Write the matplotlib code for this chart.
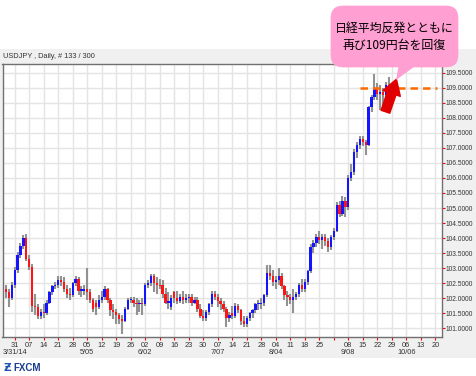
import numpy as np
import matplotlib
matplotlib.use('Agg')
import matplotlib.pyplot as plt
from matplotlib.patches import Rectangle, FancyBboxPatch, Polygon
from matplotlib.transforms import blended_transform_factory

plt.rcParams['font.family'] = ['Liberation Sans', 'DejaVu Sans']

# USDJPY daily, 3/26/14 - 9/26/14
opens = [102.30, 102.20, 102.00, 102.45, 102.95, 103.45, 103.75, 104.00, 103.30, 103.05,
         101.75, 101.70, 101.40, 101.55, 101.50, 101.85, 102.20, 102.40, 102.45, 102.60,
         102.55, 102.30, 102.15, 102.10, 102.50, 102.65, 102.25, 102.25, 102.30, 102.20,
         101.95, 101.85, 101.70, 101.95, 102.05, 102.30, 101.95, 101.60, 101.55, 101.45,
         101.30, 101.25, 101.65, 101.95, 101.95, 101.85, 101.80, 101.85, 101.80, 102.45,
         102.50, 102.75, 102.50, 102.45, 102.45, 102.15, 101.85, 101.70, 102.20, 102.00,
         101.90, 102.05, 101.95, 102.00, 102.05, 101.85, 101.95, 101.65, 101.40, 101.35,
         101.55, 101.80, 102.15, 102.05, 101.90, 101.80, 101.65, 101.35, 101.50, 101.40,
         101.75, 101.60, 101.25, 101.15, 101.35, 101.50, 101.60, 101.80, 101.80, 101.85,
         102.10, 102.85, 102.75, 102.55, 102.60, 102.75, 102.40, 102.10, 102.05, 101.95,
         102.05, 102.15, 102.45, 102.30, 102.55, 102.90, 103.70, 103.85, 104.05, 103.95,
         104.05, 103.90, 103.70, 104.05, 104.25, 105.10, 104.80, 105.25, 105.05, 106.00,
         106.20, 106.85, 107.10, 107.30, 107.20, 107.10, 108.35, 108.70, 109.00, 108.80,
         108.85, 108.75, 109.10]
highs = [102.45, 102.30, 102.55, 103.05, 103.55, 103.85, 104.10, 104.15, 103.45, 103.15,
         102.15, 101.80, 101.65, 101.80, 101.95, 102.25, 102.45, 102.55, 102.75, 102.75,
         102.70, 102.45, 102.35, 102.55, 102.75, 102.70, 102.40, 102.45, 103.00, 102.30,
         102.00, 101.95, 102.10, 102.25, 102.40, 102.35, 102.00, 101.80, 101.65, 101.50,
         101.45, 101.70, 102.00, 102.05, 102.05, 102.00, 101.95, 102.00, 102.50, 102.60,
         102.80, 102.80, 102.70, 102.65, 102.60, 102.35, 102.20, 102.10, 102.25, 102.25,
         102.15, 102.25, 102.15, 102.15, 102.15, 102.05, 102.05, 101.80, 101.60, 101.60,
         101.85, 102.25, 102.25, 102.15, 102.00, 101.90, 101.70, 101.55, 101.75, 101.85,
         101.80, 101.65, 101.40, 101.40, 101.55, 101.65, 101.85, 101.95, 102.00, 102.15,
         103.10, 103.10, 102.95, 102.75, 103.00, 102.85, 102.45, 102.25, 102.15, 102.30,
         102.20, 102.50, 102.65, 102.65, 102.95, 103.80, 103.95, 104.15, 104.25, 104.15,
         104.15, 104.00, 104.10, 104.35, 105.20, 105.25, 105.40, 105.35, 106.10, 106.45,
         106.95, 107.20, 107.40, 107.40, 107.25, 108.40, 108.75, 109.45, 109.15, 109.10,
         109.00, 109.20, 109.35]
lows = [102.00, 101.70, 101.95, 102.35, 102.85, 103.35, 103.65, 103.25, 102.95, 101.55,
        101.45, 101.30, 101.30, 101.35, 101.45, 101.80, 102.10, 102.30, 102.35, 102.40,
        102.20, 102.00, 101.95, 102.05, 102.40, 102.10, 102.05, 102.10, 101.95, 101.85,
        101.55, 101.45, 101.65, 101.85, 101.95, 101.85, 101.40, 101.30, 101.15, 101.15,
        100.80, 101.20, 101.60, 101.85, 101.70, 101.45, 101.55, 101.45, 101.75, 102.35,
        102.40, 102.20, 102.15, 102.30, 102.00, 101.80, 101.65, 101.60, 101.85, 101.80,
        101.85, 101.80, 101.85, 101.85, 101.75, 101.80, 101.55, 101.35, 101.25, 101.25,
        101.45, 101.70, 101.95, 101.70, 101.60, 101.55, 101.05, 101.20, 101.30, 101.35,
        101.50, 101.10, 101.05, 101.05, 101.25, 101.35, 101.50, 101.60, 101.65, 101.75,
        102.05, 102.60, 102.40, 102.30, 102.45, 102.30, 101.95, 101.75, 101.80, 101.50,
        101.95, 102.05, 102.20, 102.20, 102.45, 102.85, 103.50, 103.70, 103.80, 103.65,
        103.75, 103.55, 103.60, 103.95, 104.20, 104.70, 104.75, 104.70, 104.95, 105.90,
        106.10, 106.65, 106.95, 107.05, 106.75, 107.05, 108.20, 108.60, 108.60, 108.25,
        108.40, 108.55, 108.95]
closes = [102.20, 102.00, 102.45, 102.95, 103.45, 103.75, 104.00, 103.30, 103.05, 101.75,
          101.70, 101.40, 101.55, 101.50, 101.85, 102.20, 102.40, 102.45, 102.60, 102.55,
          102.30, 102.15, 102.10, 102.50, 102.65, 102.25, 102.30, 102.30, 102.20, 101.95,
          101.65, 101.70, 101.95, 102.05, 102.30, 101.95, 101.60, 101.55, 101.45, 101.30,
          101.25, 101.65, 101.95, 101.95, 101.85, 101.80, 101.85, 101.80, 102.45, 102.50,
          102.75, 102.50, 102.45, 102.40, 102.15, 101.85, 101.90, 102.00, 102.00, 101.90,
          102.05, 101.95, 102.00, 102.05, 101.85, 101.95, 101.65, 101.40, 101.35, 101.55,
          101.80, 102.15, 102.05, 101.90, 101.80, 101.65, 101.35, 101.45, 101.40, 101.75,
          101.60, 101.25, 101.15, 101.35, 101.50, 101.60, 101.80, 101.80, 101.85, 102.10,
          102.85, 102.75, 102.55, 102.60, 102.75, 102.40, 102.10, 102.05, 101.95, 102.05,
          102.15, 102.45, 102.30, 102.55, 102.90, 103.70, 103.85, 104.05, 103.95, 104.05,
          103.90, 103.70, 104.05, 104.25, 105.10, 104.80, 105.25, 105.05, 106.00, 106.20,
          106.85, 107.10, 107.30, 107.20, 107.10, 108.35, 108.70, 109.00, 108.80, 108.85,
          108.75, 109.10, 109.05]

# weekly grid (Mondays), first Monday 3/31 is bar 3
day_labels = ['31', '07', '14', '21', '28', '05', '12', '19', '26', '02', '09', '16', '23', '30',
              '07', '14', '21', '28', '04', '11', '18', '25', '', '08', '15', '22', '29', '06', '13', '20']
month_labels = {0: '3/31/14', 5: '5/05', 9: '6/02', 14: '7/07', 18: '8/04', 23: '9/08', 27: '10/06'}
y_ticks = np.arange(101.0, 109.51, 0.5)

resist_level = 109.0
resist_span = (122, 148.5)
arrow_from = (130.8, 108.2)
arrow_to = (134.6, 109.28)
note_lines = ['日経平均反発とともに', '再び109円台を回復']

W, H = 476, 376
fig = plt.figure(figsize=(W / 100, H / 100), dpi=100)
fig.patch.set_facecolor('white')

# grey chart panel
fig.patches.append(Rectangle((0, (H - 358) / H), 1, (358 - 49) / H, transform=fig.transFigure,
                             facecolor='#f0f0f0', edgecolor='none', zorder=0))

ax = fig.add_axes([2.5 / W, (H - 337) / H, (442 - 2.5) / W, (337 - 64) / H])
ax.set_zorder(2)
ax.set_facecolor('white')

x = np.arange(len(closes))
o = np.array(opens)
c = np.array(closes)
cols = np.where(c >= o, '#1414ff', '#ff1414')
ax.vlines(x, lows, highs, color='#929292', lw=1.5, zorder=3)
body = np.where(np.abs(c - o) < 0.03, 0.03, c - o)
ax.bar(x, body, bottom=o, width=0.8, color=cols, linewidth=0, zorder=4)

grid_x = [3 + 5 * k for k in range(len(day_labels))]
ax.set_xticks(grid_x)
ax.set_xticklabels(day_labels)
ax.set_xlim(-1.2, 150.3)
ax.set_ylim(100.714, 109.786)
ax.set_yticks(y_ticks)
ax.set_yticklabels([f'{v:.4f}' for v in y_ticks])
ax.yaxis.tick_right()
ax.grid(True, color='#e4e4e4', lw=1.0, zorder=0)
ax.set_axisbelow(True)
ax.tick_params(axis='both', colors='#ff0000', labelcolor='#333333', labelsize=5.3,
               length=2.5, width=0.8)
ax.tick_params(axis='y', pad=0.6, labelsize=4.8, length=2.2)
ax.tick_params(axis='x', pad=1.2)
for s in ax.spines.values():
    s.set_color('#707070')
    s.set_linewidth(1.0)

tr = blended_transform_factory(ax.transData, ax.transAxes)
for k, lab in month_labels.items():
    ax.text(grid_x[k], -15.5 / 273, lab, transform=tr, ha='center', va='center',
            fontsize=5.3, color='#333333')

# resistance line and arrow
ax.hlines(resist_level, *resist_span, color='#ff6a00', lw=1.8, linestyles=(0, (3, 2)),
          zorder=5, clip_on=False)
ax.annotate('', xy=arrow_to, xytext=arrow_from, annotation_clip=False, zorder=7,
            arrowprops=dict(arrowstyle='simple,head_length=0.9,head_width=1.1,tail_width=0.55',
                            color='#e00000', mutation_scale=12, shrinkA=0, shrinkB=0))

fig.text(3 / W, 1 - 57 / H, 'USDJPY , Daily, # 133 / 300', fontsize=5.3, color='#333333',
         ha='left', va='center')

# callout
ins = fig.dpi_scale_trans
bx0, bx1, by0, by1 = 331, 458, 6, 67
r = 12
fig.patches.append(FancyBboxPatch(((bx0 + r) / 100, (H - by1 + r) / 100),
                                  (bx1 - bx0 - 2 * r) / 100, (by1 - by0 - 2 * r) / 100,
                                  boxstyle=f'round,pad={r / 100}', transform=ins,
                                  facecolor='#ff9fd2', edgecolor='#ff9fd2', lw=0.5, zorder=10))
fig.patches.append(Polygon([(399 / 100, (H - 64) / 100), (418 / 100, (H - 64) / 100),
                            (396 / 100, (H - 80) / 100)], closed=True, transform=ins,
                           facecolor='#ff9fd2', edgecolor='none', zorder=10))
cjk = ['Noto Sans CJK JP', 'DejaVu Sans']
fig.text(394 / W, 1 - 28 / H, note_lines[0], fontsize=8.6, family=cjk, ha='center',
         va='center', color='black', zorder=11)
fig.text(394 / W, 1 - 45 / H, note_lines[1], fontsize=8.6, family=cjk, ha='center',
         va='center', color='black', zorder=11)

# logo
fig.text(4 / W, 1 - 368 / H, 'Ƶ', fontsize=7.5, color='#2050b0', fontweight='bold',
         ha='left', va='center', family=['DejaVu Sans'])
fig.text(13 / W, 1 - 368 / H, 'FXCM', fontsize=7, color='#1a3c8c', fontweight='bold',
         ha='left', va='center')

fig.savefig('out.png', dpi=100, facecolor=fig.get_facecolor())
